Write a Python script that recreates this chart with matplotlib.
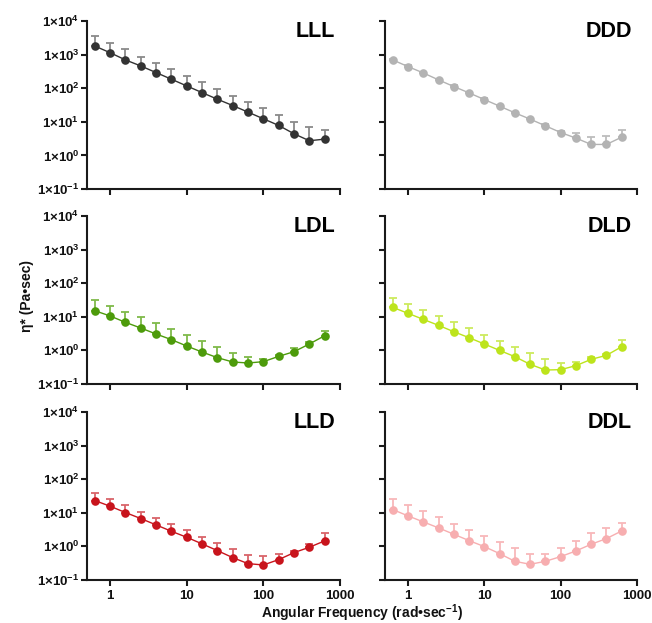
import matplotlib
matplotlib.use("Agg")
import matplotlib.pyplot as plt
import numpy as np

plt.rcParams['font.family'] = ['Liberation Sans', 'DejaVu Sans']
plt.rcParams['mathtext.fontset'] = 'custom'
plt.rcParams['mathtext.rm'] = 'Liberation Sans:bold'
plt.rcParams['mathtext.it'] = 'Liberation Sans:bold'
plt.rcParams['mathtext.bf'] = 'Liberation Sans:bold'
plt.rcParams['mathtext.default'] = 'rm'

# Angular frequency sweep (rad/s)
freq = [0.631, 1.0, 1.585, 2.512, 3.981, 6.31, 10.0, 15.85, 25.12, 39.81,
        63.1, 100.0, 158.5, 251.2, 398.1, 631.0]

# Complex viscosity means and upper SD for each formulation
lll_mean = [1800, 1140, 695, 460, 292, 185, 117, 74, 47, 30.5, 19.4, 12.3, 7.8, 4.4, 2.73, 3.05]
lll_sd = [1780, 1130, 745, 411, 286, 181, 115, 77, 46, 30, 19.9, 13.2, 8.0, 5.6, 4.22, 2.75]

ddd_mean = [695, 440, 285, 177, 112, 72.6, 46, 29.2, 18.5, 12, 7.6, 4.8, 3.27, 2.12, 2.12, 3.5]
ddd_sd = [60, 40, 25, 16, 10, 6.5, 4, 2.6, 1.7, 1.2, 0.9, 0.7, 1.23, 1.46, 1.63, 2.15]

ldl_mean = [15.2, 10.6, 6.84, 4.64, 3.08, 2.09, 1.35, 0.895, 0.608, 0.452, 0.422, 0.462, 0.665, 0.916, 1.55, 2.74]
ldl_sd = [16.4, 10.4, 7.36, 4.96, 3.32, 2.35, 1.46, 0.965, 0.682, 0.405, 0.228, 0.088, 0.085, 0.264, 0.2, 1.13]

dld_mean = [19.1, 12.7, 8.4, 5.57, 3.6, 2.39, 1.55, 1.0, 0.65, 0.385, 0.261, 0.267, 0.352, 0.542, 0.713, 1.29]
dld_sd = [16.4, 11.9, 7.9, 5.23, 3.4, 2.25, 1.39, 0.95, 0.64, 0.433, 0.293, 0.164, 0.088, 0.078, 0.067, 0.71]

lld_mean = [23.2, 15.7, 10.2, 6.75, 4.37, 2.82, 1.87, 1.19, 0.75, 0.464, 0.307, 0.28, 0.404, 0.653, 0.942, 1.46]
lld_sd = [15.2, 9.8, 6.3, 4.15, 2.83, 1.75, 1.16, 0.77, 0.55, 0.356, 0.238, 0.228, 0.178, 0.097, 0.248, 1.12]

ddl_mean = [12.5, 8.1, 5.37, 3.56, 2.3, 1.49, 0.986, 0.61, 0.36, 0.293, 0.36, 0.497, 0.733, 1.16, 1.71, 2.89]
ddl_sd = [13.0, 8.8, 5.83, 3.84, 2.49, 1.61, 1.06, 0.72, 0.52, 0.289, 0.222, 0.423, 0.757, 1.31, 1.93, 2.24]

panels = [
    ("LLL", lll_mean, lll_sd, "#333333", "#8a8a8a"),
    ("DDD", ddd_mean, ddd_sd, "#b3b3b3", "#bdbdbd"),
    ("LDL", ldl_mean, ldl_sd, "#4d9b0b", "#7fba4a"),
    ("DLD", dld_mean, dld_sd, "#bde41c", "#cdea5e"),
    ("LLD", lld_mean, lld_sd, "#c8141c", "#d9646a"),
    ("DDL", ddl_mean, ddl_sd, "#f7aeb0", "#f8b8ba"),
]

ytick_vals = [1e-1, 1e0, 1e1, 1e2, 1e3, 1e4]
ytick_labels = [r"$1{\times}10^{-1}$", r"$1{\times}10^{0}$", r"$1{\times}10^{1}$",
                r"$1{\times}10^{2}$", r"$1{\times}10^{3}$", r"$1{\times}10^{4}$"]
xtick_vals = [1, 10, 100, 1000]
xtick_labels = ["1", "10", "100", "1000"]

W, H = 652, 623
fig = plt.figure(figsize=(W / 100, H / 100), dpi=100)

col_left = [87, 385]
col_width = [253, 252]
row_top = [21, 216, 412]
row_height = 168
spine_col = "#1a1a1a"

for i, (name, mean, sd, mcol, ecol) in enumerate(panels):
    r, c = divmod(i, 2)
    left = col_left[c] / W
    bottom = 1 - (row_top[r] + row_height) / H
    ax = fig.add_axes([left, bottom, col_width[c] / W, row_height / H])
    ax.set_xscale("log")
    ax.set_yscale("log")
    ax.set_xlim(0.5, 1000)
    ax.set_ylim(1e-1, 1e4)

    mean = np.asarray(mean)
    sd = np.asarray(sd)
    ax.errorbar(freq, mean, yerr=[np.zeros_like(sd), sd], fmt="none",
                ecolor=ecol, elinewidth=1.3, capsize=3.2, capthick=1.3, zorder=2)
    ax.plot(freq, mean, color=mcol, lw=1.0, marker="o", markersize=6.2,
            markeredgewidth=0, zorder=3, clip_on=False)

    for side in ("top", "right"):
        ax.spines[side].set_visible(False)
    for side in ("left", "bottom"):
        ax.spines[side].set_linewidth(1.5)
        ax.spines[side].set_color(spine_col)

    ax.minorticks_off()
    ax.set_xticks(xtick_vals)
    ax.set_yticks(ytick_vals)
    ax.tick_params(axis="both", which="major", direction="out", length=4.5,
                   width=1.5, color=spine_col, labelcolor="#111111")
    ax.tick_params(axis="x", labelsize=9.5, pad=3)
    ax.tick_params(axis="y", labelsize=9.5, pad=1)
    if r == 2:
        ax.set_xticklabels(xtick_labels, fontweight="bold")
    else:
        ax.set_xticklabels([])
    if c == 0:
        ax.set_yticklabels(ytick_labels)
    else:
        ax.set_yticklabels([])

    ax.text(0.98, 1.0, name, transform=ax.transAxes, ha="right", va="top",
            fontsize=15.5, fontweight="bold", color="#000000")

fig.text(27 / W, 1 - 296 / H, "η* (Pa•sec)", rotation=90, ha="center", va="center",
         fontsize=10, fontweight="bold", color="#111111")
fig.text(362 / W, 1 - 613 / H, r"Angular Frequency (rad•sec$^{\mathbf{-1}}$)", ha="center",
         va="center", fontsize=10, fontweight="bold", color="#111111")

fig.savefig("out.png", dpi=100, facecolor="white")
